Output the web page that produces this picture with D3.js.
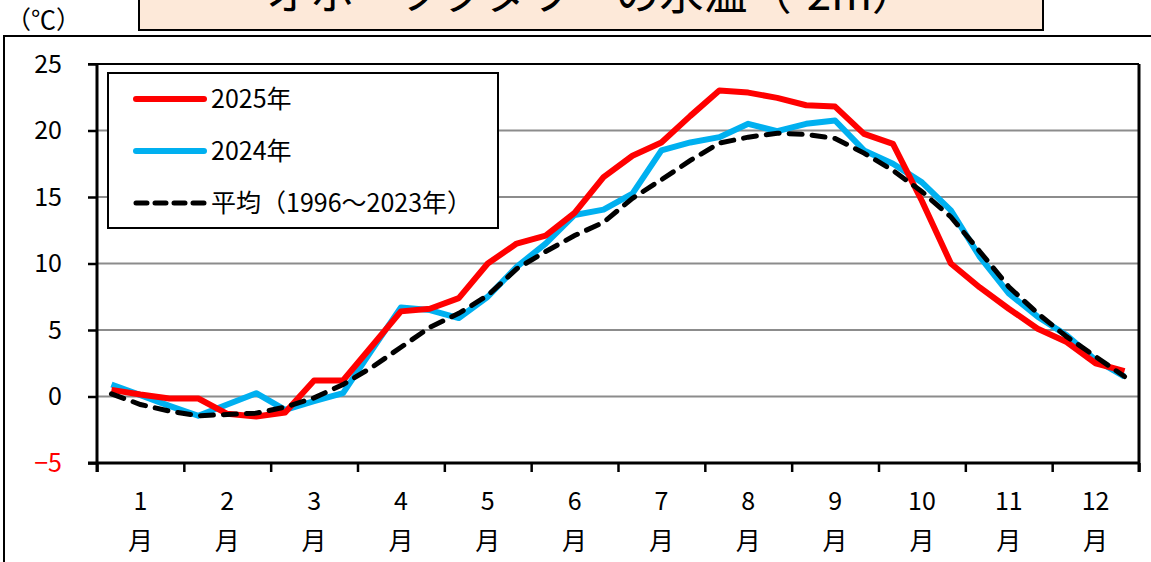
<!DOCTYPE html>
<html>
<head>
<meta charset="utf-8">
<script src="https://cdn.jsdelivr.net/npm/d3@7"></script>
<style>
  body { margin: 0; background: #fff; }
  svg { display: block; font-family: "Noto Sans CJK JP", "Noto Sans", sans-serif; }
</style>
</head>
<body>
<div id="chart"></div>
<script>
// month labels, one per month (3 旬 each)
var months = ["1", "2", "3", "4", "5", "6", "7", "8", "9", "10", "11", "12"];
var yTicks = [-5, 0, 5, 10, 15, 20, 25];
var gridValues = [0, 5, 10, 15, 20];

// 旬別水温 (36 points)
var temp2025 = [0.5, 0.15, -0.15, -0.15, -1.3, -1.5, -1.2, 1.2, 1.2, 3.8, 6.4, 6.6,
  7.4, 10.0, 11.5, 12.1, 13.8, 16.5, 18.1, 19.1, 21.1, 23.0, 22.85, 22.45,
  21.9, 21.8, 19.75, 19.0, 14.7, 10.0, 8.2, 6.6, 5.1, 4.1, 2.5, 1.9];
var temp2024 = [0.9, 0.1, -0.7, -1.45, -0.6, 0.25, -1.0, -0.35, 0.25, 3.5, 6.7, 6.5,
  5.9, 7.5, 9.75, 11.5, 13.65, 14.05, 15.25, 18.5, 19.1, 19.5, 20.5, 19.95,
  20.5, 20.75, 18.5, 17.5, 16.1, 14.0, 10.5, 7.75, 6.0, 4.6, 2.75, 1.5];
var tempAvg = [0.2, -0.6, -1.1, -1.45, -1.35, -1.25, -0.8, -0.1, 0.9, 2.2, 3.7, 5.2,
  6.25, 7.6, 9.6, 10.9, 12.1, 13.1, 14.9, 16.3, 17.75, 19.05, 19.5, 19.8,
  19.7, 19.4, 18.3, 17.0, 15.4, 13.5, 10.9, 8.25, 6.25, 4.5, 3.0, 1.5];

var seriesNames = ["2025年", "2024年", "平均（1996～2023年）"];

var width = 1151, height = 562;
var plotLeft = 97, plotRight = 1139, plotTop = 64, plotBottom = 463;
var fontSize = 25;

var svg = d3.select("#chart").append("svg")
  .attr("width", width)
  .attr("height", height);

var x = d3.scaleLinear().domain([0, 36]).range([plotLeft, plotRight]);
var y = d3.scaleLinear().domain([-5, 25]).range([plotBottom, plotTop]);

// outer frame
svg.append("path")
  .attr("d", "M4," + height + "V36H" + width)
  .attr("fill", "none").attr("stroke", "#000").attr("stroke-width", 2);

// title box (cut at top)
svg.append("rect")
  .attr("x", 139).attr("y", -10).attr("width", 904).attr("height", 40)
  .attr("fill", "#fde9d9").attr("stroke", "#000").attr("stroke-width", 2);
svg.append("text")
  .attr("x", 591).attr("y", 10)
  .attr("text-anchor", "middle")
  .attr("font-size", 44)
  .text("オホーツクタワーの水温（-2m）");

// unit
svg.append("text")
  .attr("x", 6).attr("y", 29)
  .attr("font-size", fontSize)
  .text("（℃）");

// gridlines
svg.append("g").selectAll("line")
  .data(gridValues)
  .enter().append("line")
  .attr("x1", plotLeft).attr("x2", plotRight)
  .attr("y1", function(d) { return y(d); })
  .attr("y2", function(d) { return y(d); })
  .attr("stroke", "#8c8c8c").attr("stroke-width", 2);

// y axis
var yAxis = d3.axisLeft(y).tickValues(yTicks).tickSize(9).tickFormat(function(d) {
  return d < 0 ? "\u2212" + Math.abs(d) : d;
});
var yg = svg.append("g").attr("transform", "translate(" + plotLeft + ",0)").call(yAxis);
yg.attr("font-size", fontSize).attr("font-family", null);
yg.select(".domain").remove();
yg.selectAll(".tick line").attr("stroke", "#000").attr("stroke-width", 2.5);
yg.selectAll(".tick text")
  .attr("x", -35)
  .attr("fill", function(d) { return d < 0 ? "#ff0000" : "#000"; });

// x axis (month boundaries)
var xAxis = d3.axisBottom(x).tickValues(d3.range(0, 37, 3)).tickSize(9).tickFormat("");
var xg = svg.append("g").attr("transform", "translate(0," + plotBottom + ")").call(xAxis);
xg.select(".domain").remove();
xg.selectAll(".tick line").attr("stroke", "#000").attr("stroke-width", 2.5);

// month labels
var ml = svg.append("g").selectAll("g")
  .data(months)
  .enter().append("g")
  .attr("transform", function(d, i) { return "translate(" + x(i * 3 + 1.5) + ",0)"; });
ml.append("text").attr("y", 510).attr("text-anchor", "middle").attr("font-size", fontSize).text(function(d) { return d; });
ml.append("text").attr("y", 550).attr("text-anchor", "middle").attr("font-size", fontSize).text("月");

// plot frame
svg.append("line").attr("x1", plotLeft).attr("x2", plotLeft).attr("y1", plotTop).attr("y2", plotBottom + 9)
  .attr("stroke", "#000").attr("stroke-width", 3);
svg.append("line").attr("x1", plotLeft - 9).attr("x2", plotRight).attr("y1", plotBottom).attr("y2", plotBottom)
  .attr("stroke", "#000").attr("stroke-width", 3);
svg.append("line").attr("x1", plotLeft - 9).attr("x2", plotRight).attr("y1", plotTop).attr("y2", plotTop)
  .attr("stroke", "#000").attr("stroke-width", 2);
svg.append("line").attr("x1", plotRight).attr("x2", plotRight).attr("y1", plotTop).attr("y2", plotBottom + 9)
  .attr("stroke", "#000").attr("stroke-width", 3);

// lines
var line = d3.line()
  .x(function(d, i) { return x(i + 0.5); })
  .y(function(d) { return y(d); });

function drawAvg() {
  svg.append("path").datum(tempAvg)
    .attr("d", line).attr("fill", "none")
    .attr("stroke", "#000").attr("stroke-width", 5)
    .attr("stroke-dasharray", "13,10").attr("stroke-linecap", "round");
}
svg.append("path").datum(temp2024)
  .attr("d", line).attr("fill", "none")
  .attr("stroke", "#00b0f0").attr("stroke-width", 6).attr("stroke-linejoin", "round");
svg.append("path").datum(temp2025)
  .attr("d", line).attr("fill", "none")
  .attr("stroke", "#ff0000").attr("stroke-width", 6).attr("stroke-linejoin", "round");
drawAvg();

// legend
var legend = svg.append("g");
legend.append("rect")
  .attr("x", 108).attr("y", 73).attr("width", 390).attr("height", 155)
  .attr("fill", "#fff").attr("stroke", "#000").attr("stroke-width", 2);
var legendStyles = [
  { color: "#ff0000", dash: null, w: 6 },
  { color: "#00b0f0", dash: null, w: 6 },
  { color: "#000", dash: "11,8", w: 5 }
];
var items = legend.selectAll("g.item")
  .data(seriesNames)
  .enter().append("g")
  .attr("transform", function(d, i) { return "translate(0," + (99 + i * 52) + ")"; });
items.append("line")
  .attr("x1", 136).attr("x2", 204)
  .attr("stroke", function(d, i) { return legendStyles[i].color; })
  .attr("stroke-width", function(d, i) { return legendStyles[i].w; })
  .attr("stroke-dasharray", function(d, i) { return legendStyles[i].dash; })
  .attr("stroke-linecap", "round");
items.append("text")
  .attr("x", 211).attr("y", 9)
  .attr("font-size", fontSize)
  .text(function(d) { return d; });
</script>
</body>
</html>
